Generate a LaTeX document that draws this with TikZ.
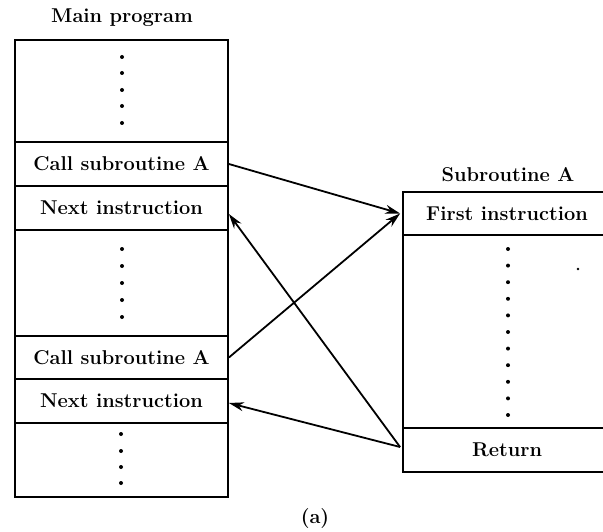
\documentclass[tikz,border=0pt]{standalone}
\usetikzlibrary{arrows.meta}
\begin{document}
\begin{tikzpicture}[x=1pt,y=-1pt,
  cell/.style={draw, line width=1.8pt, inner sep=0pt, font=\fontsize{20}{24}\selectfont\bfseries},
  lbl/.style={inner sep=0pt, font=\fontsize{20}{24}\selectfont\bfseries},
  arr/.style={line width=1.8pt, -{Stealth[length=15pt,width=9pt]}},
  dot/.style={fill=black}]
\clip (0,0) rectangle (603,532);
% main program
\node[lbl] (mainlbl) at (122,18) {Main program};
\node[cell, minimum width=213pt, minimum height=102pt] (m0) at (121.5,91) {};
\node[cell, minimum width=213pt, minimum height=44pt] (call1) at (121.5,164) {Call subroutine A};
\node[cell, minimum width=213pt, minimum height=44pt] (next1) at (121.5,208) {Next instruction};
\node[cell, minimum width=213pt, minimum height=106pt] (m1) at (121.5,283) {};
\node[cell, minimum width=213pt, minimum height=43pt] (call2) at (121.5,357.5) {Call subroutine A};
\node[cell, minimum width=213pt, minimum height=44pt] (next2) at (121.5,401) {Next instruction};
\node[cell, minimum width=213pt, minimum height=74pt] (m2) at (121.5,460) {};
\foreach \y in {57,73,90,106,123} \fill[dot] (122,\y) circle (2);
\foreach \y in {249,266,283,300,317} \fill[dot] (122,\y) circle (2);
\foreach \y in {434,451,467,483} \fill[dot] (121,\y) circle (2);
% subroutine
\node[lbl] (sublbl) at (508,175) {Subroutine A};
\node[cell, minimum width=208pt, minimum height=43pt] (first) at (507,213.5) {First instruction};
\node[cell, minimum width=208pt, minimum height=193pt] (s1) at (507,331.5) {};
\node[cell, minimum width=208pt, minimum height=44pt] (ret) at (507,450) {Return};
\foreach \i in {0,...,10} \fill[dot] (508,249+16.6*\i) circle (2);
\fill[dot] (578,269) circle (1.3);
% caption
\node[lbl] (cap) at (315,519) {(a)};
% connectors
\coordinate (tin) at ([xshift=-2pt]first.west);
\coordinate (rout) at ([xshift=-2pt,yshift=3pt]ret.west);
\draw[arr] (call1.east) -- (tin);
\draw[arr] (call2.east) -- (tin);
\draw[arr] (rout) -- ([yshift=-6pt]next1.east);
\draw[arr] (rout) -- ([yshift=-2pt]next2.east);
\end{tikzpicture}
\end{document}
